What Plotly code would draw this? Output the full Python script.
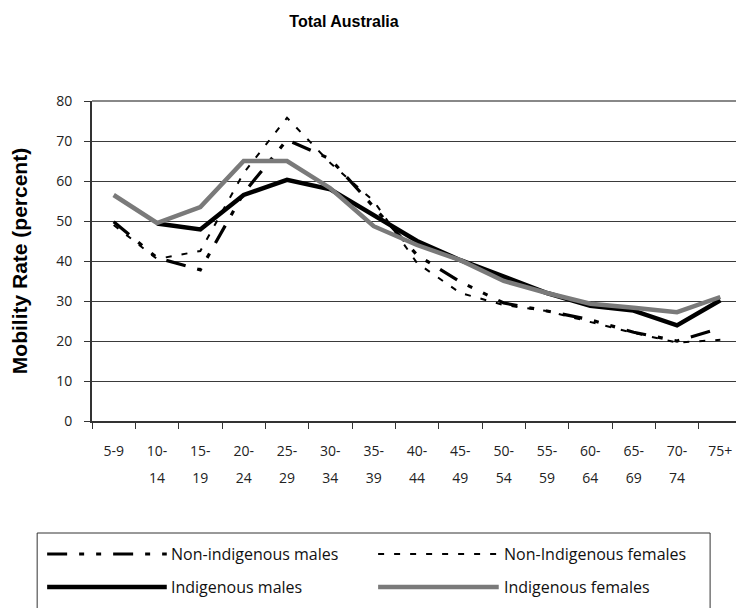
import plotly.graph_objects as go

categories = ["5-9", "10-14", "15-19", "20-24", "25-29", "30-34", "35-39", "40-44",
              "45-49", "50-54", "55-59", "60-64", "65-69", "70-74", "75+"]
label_line1 = ["5-9", "10-", "15-", "20-", "25-", "30-", "35-", "40-",
               "45-", "50-", "55-", "60-", "65-", "70-", "75+"]
label_line2 = ["", "14", "19", "24", "29", "34", "39", "44",
               "49", "54", "59", "64", "69", "74", ""]

non_indig_males = [49.8, 40.8, 37.8, 57.0, 70.3, 65.5, 53.5, 41.5,
                   34.8, 29.5, 27.5, 25.3, 22.2, 20.0, 23.2]
non_indig_females = [49.0, 40.5, 42.5, 62.0, 75.8, 64.5, 55.0, 39.5,
                     32.0, 29.0, 27.5, 24.8, 22.0, 19.6, 20.3]
indig_males = [None, 49.4, 47.9, 56.5, 60.3, 57.9, 51.6, 45.0,
               40.2, 36.0, 32.0, 28.8, 27.6, 23.9, 30.2]
indig_females = [56.5, 49.5, 53.5, 65.0, 65.0, 58.2, 48.7, 44.0,
                 40.2, 35.0, 32.0, 29.3, 28.3, 27.2, 31.0]

series_names = ["Non-indigenous males", "Non-Indigenous females",
                "Indigenous males", "Indigenous females"]

# page body has an 8px margin: work in figure coordinates (reference px - 8)
OFF = 8
W, H = 744, 608
L, T = 90 - OFF, 101 - OFF
R = W - (742 - OFF)
B = H - (421 - OFF)
PW, PH = W - L - R, H - T - B

def px(x):
    return (x - OFF - L) / PW

def py(y):
    return (H - B - (y - OFF)) / PH

styles = [
    dict(color="black", width=3.2, dash="20px,12px,5px,12px,5px,12px"),
    dict(color="black", width=2, dash="6px,10px"),
    dict(color="black", width=4.5),
    dict(color="#7a7a7a", width=4.5),
]
data = [non_indig_males, non_indig_females, indig_males, indig_females]

fig = go.Figure()
for name, vals, st in zip(series_names, data, styles):
    fig.add_trace(go.Scatter(x=categories, y=vals, mode="lines", name=name,
                             line=st, showlegend=False, connectgaps=False))
# empty helper trace so the second-line tick axis is drawn
fig.add_trace(go.Scatter(x=list(range(len(categories))), y=[None] * len(categories),
                         xaxis="x2", yaxis="y", mode="lines", showlegend=False,
                         hoverinfo="skip"))

tick_font = dict(family="Open Sans, Noto Sans, sans-serif", size=14, color="#222")
bold_font = dict(family="Liberation Sans, Arial, sans-serif", color="black", weight="bold")

fig.update_layout(
    width=W, height=H, autosize=False,
    margin=dict(l=L, r=R, t=T, b=B),
    paper_bgcolor="white", plot_bgcolor="white",
    title=dict(text="Total Australia", x=(344 - OFF) / W, xref="container",
               xanchor="center", y=1 - (21 - OFF) / H, yref="container",
               yanchor="middle", font=dict(**bold_font, size=16)),
    xaxis=dict(type="category", categoryorder="array", categoryarray=categories,
               range=[-0.5, 14.5], tickmode="array", tickvals=categories,
               ticktext=label_line1, tickson="boundaries", ticks="outside",
               ticklen=6, tickcolor="#333", tickwidth=1,
               showline=True, linecolor="#333", linewidth=2,
               showgrid=False, zeroline=False, tickfont=tick_font,
               ticklabelstandoff=16, fixedrange=True),
    xaxis2=dict(overlaying="x", anchor="y", side="bottom", range=[-0.5, 14.5],
                tickmode="array", tickvals=list(range(len(categories))),
                ticktext=label_line2, ticks="", showline=False, showgrid=False,
                zeroline=False, tickfont=tick_font, ticklabelstandoff=47,
                fixedrange=True),
    yaxis=dict(range=[0, 80], dtick=10, tick0=0, ticks="outside", ticklen=6,
               tickcolor="#333", tickwidth=1, showline=True, linecolor="#333",
               linewidth=2, showgrid=True, gridcolor="#3a3a3a", gridwidth=1,
               zeroline=False, tickfont=tick_font, ticklabelstandoff=9,
               title=dict(text="Mobility Rate (percent)", font=dict(**bold_font, size=21),
                          standoff=23),
               fixedrange=True),
    showlegend=False,
)

# top border of plot area
fig.add_shape(type="line", xref="paper", yref="paper", x0=0, x1=1, y0=1, y1=1,
              line=dict(color="#888", width=2))

# custom legend box (wide line samples as in reference)
fig.add_shape(type="rect", xref="paper", yref="paper",
              x0=px(35), x1=px(710), y0=py(533), y1=py(650),
              line=dict(color="#333", width=1), fillcolor="rgba(0,0,0,0)")
leg_pos = [(45, 165, 167, 554), (377, 498, 501, 554),
           (45, 165, 167, 587), (377, 498, 501, 587)]
leg_font = dict(family="Open Sans, Noto Sans, sans-serif", size=16, color="#111")
for name, st, (x0, x1, xt, yy) in zip(series_names, styles, leg_pos):
    fig.add_shape(type="line", xref="paper", yref="paper",
                  x0=px(x0), x1=px(x1), y0=py(yy), y1=py(yy), line=st)
    fig.add_annotation(text=name, xref="paper", yref="paper", x=px(xt), y=py(yy),
                       xanchor="left", yanchor="middle", showarrow=False, font=leg_font)

fig.write_html("out.html")
